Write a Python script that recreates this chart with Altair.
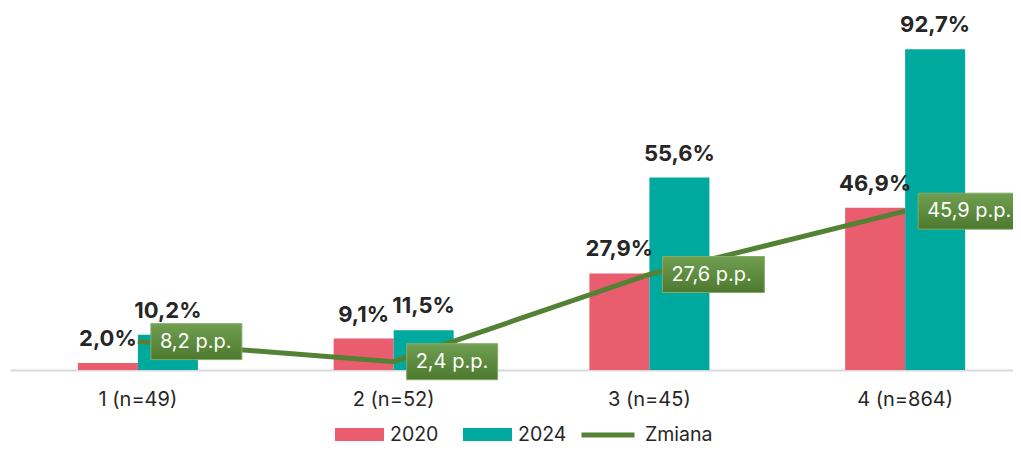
import altair as alt
import pandas as pd

categories = ["1 (n=49)", "2 (n=52)", "3 (n=45)", "4 (n=864)"]
series = ["2020", "2024"]
values_2020 = [2.0, 9.1, 27.9, 46.9]
values_2024 = [10.2, 11.5, 55.6, 92.7]
zmiana = [8.2, 2.4, 27.6, 45.9]

bars_df = pd.DataFrame({
    "cat": categories * 2,
    "rok": [series[0]] * len(categories) + [series[1]] * len(categories),
    "v": values_2020 + values_2024,
})
line_df = pd.DataFrame({"cat": categories, "d": zmiana, "s": ["Zmiana"] * len(categories)})

FONT = "Inter"
TXT = "#262626"

x = alt.X(
    "cat:N", sort=categories,
    scale=alt.Scale(range=[0, 1023], paddingInner=0, paddingOuter=0),
    axis=alt.Axis(title=None, labelAngle=0, ticks=False, grid=False,
                  domainColor="#D9D9D9", domainWidth=2,
                  labelFontSize=20, labelFont=FONT, labelColor=TXT, labelPadding=19),
)
yscale = alt.Scale(domain=[0, 100])
xoff = alt.XOffset("rok:N", sort=series,
                   scale=alt.Scale(range=[67.9, 187.9], paddingInner=0, paddingOuter=0))

base_bars = alt.Chart(bars_df).transform_calculate(
    lab="replace(format(datum.v, '.1f'), '.', ',') + '%'"
)

bars = base_bars.mark_bar().encode(
    x=x, xOffset=xoff,
    y=alt.Y("v:Q", scale=yscale, axis=None),
    color=alt.Color("rok:N", sort=series,
                    scale=alt.Scale(domain=series, range=["#E95D6E", "#00A99D"]),
                    legend=alt.Legend(title=None, orient="none", legendX=325, legendY=386,
                                      direction="horizontal",
                                      symbolType="M-1,-0.265H1V0.265H-1Z", symbolSize=2401,
                                      symbolStrokeWidth=0, symbolOpacity=1,
                                      labelFontSize=19.5, labelFont=FONT, labelColor=TXT,
                                      labelOffset=6, columnPadding=24, padding=0)),
)

bar_labels = base_bars.mark_text(baseline="alphabetic", dy=-17, fontSize=22,
                                 fontWeight="bold", font=FONT, color=TXT).encode(
    x=x, xOffset=xoff, y=alt.Y("v:Q", scale=yscale, axis=None), text="lab:N"
)

base_line = alt.Chart(line_df).transform_calculate(
    lab="replace(format(datum.d, '.1f'), '.', ',') + ' p.p.'",
    lo="datum.d - 5.2",
    hi="datum.d + 5.2",
)

line = base_line.mark_line(strokeWidth=5).encode(
    x=x, y=alt.Y("d:Q", scale=yscale, axis=None),
    stroke=alt.Stroke("s:N", scale=alt.Scale(domain=["Zmiana"], range=["#548235"]),
                      legend=alt.Legend(title=None, orient="none", legendX=569, legendY=382,
                                        symbolType="stroke", symbolSize=2809,
                                        symbolStrokeWidth=5,
                                        labelFontSize=19.5, labelFont=FONT, labelColor=TXT,
                                        labelOffset=8, padding=0)),
)

grad = alt.Gradient(
    gradient="linear",
    stops=[alt.GradientStop(color="#719F52", offset=0),
           alt.GradientStop(color="#4C792D", offset=1)],
    x1=0, x2=0, y1=0, y2=1,
)


def boxes(short):
    cond = "length(datum.lab) <= 8" if short else "length(datum.lab) > 8"
    w = 91 if short else 102
    return base_line.transform_filter(cond).mark_bar(
        width=w, xOffset=13 + w / 2, fill=grad, stroke="#84AC68", strokeWidth=1
    ).encode(
        x=x, y=alt.Y("lo:Q", scale=yscale, axis=None), y2="hi:Q"
    )


box_text = base_line.mark_text(align="left", baseline="middle", dx=22, fontSize=20,
                               font=FONT, color="white").encode(
    x=x, y=alt.Y("d:Q", scale=yscale, axis=None), text="lab:N"
)

chart = alt.layer(bars, line, boxes(True), boxes(False), box_text, bar_labels).properties(
    width=1003, height=346,
    padding={"left": 2, "top": 16, "right": 0, "bottom": 76},
    autosize=alt.AutoSizeParams(type="none"),
).configure_view(stroke=None)

chart.save("out.html", embed_options={"renderer": "svg", "actions": False})
